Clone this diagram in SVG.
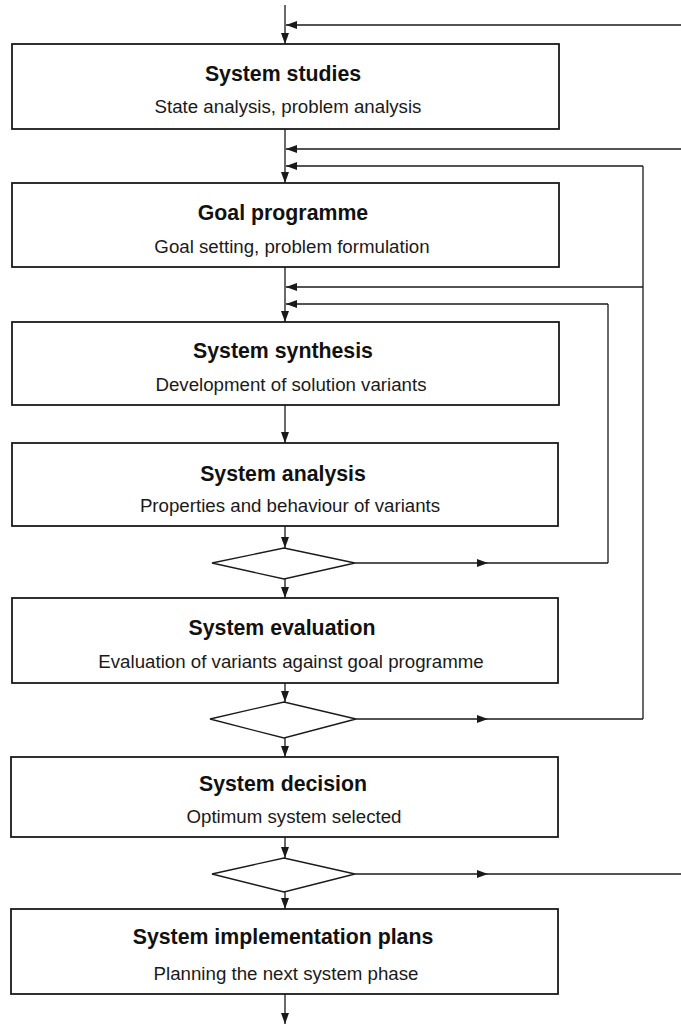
<svg xmlns="http://www.w3.org/2000/svg" width="681" height="1027" viewBox="0 0 681 1027">
<style>
.box{fill:#fff;stroke:#1a1a1a;stroke-width:1.8}
.dia{fill:#fff;stroke:#1a1a1a;stroke-width:1.3}
.t{font-family:"Liberation Sans",Arial,sans-serif;font-weight:bold;font-size:21.3px;fill:#111;text-anchor:middle}
.s{font-family:"Liberation Sans",Arial,sans-serif;font-size:18.7px;fill:#1a1a1a;text-anchor:middle}
.c{fill:none;stroke:#1a1a1a;stroke-width:1.3}
.a{marker-end:url(#ah)}
</style>
<defs>
<marker id="ah" markerUnits="userSpaceOnUse" markerWidth="11" markerHeight="8" refX="11" refY="4" orient="auto">
<path d="M0,0 L11,4 L0,8 z" fill="#1a1a1a"/>
</marker>
</defs>
<rect width="681" height="1027" fill="#fff"/>
<g id="connectors">
<path class="c a" d="M285,5 V44"/>
<path class="c a" d="M681,25 H286"/>
<path class="c a" d="M285,129 V183"/>
<path class="c a" d="M681,149 H286"/>
<path class="c a" d="M643,166 H286"/>
<path class="c" d="M643,166 V719"/>
<path class="c a" d="M285,267 V322"/>
<path class="c a" d="M643,287 H286"/>
<path class="c a" d="M608,304 H286"/>
<path class="c" d="M608,304 V563"/>
<path class="c a" d="M285,405 V443"/>
<path class="c a" d="M285,526 V548"/>
<path class="c a" d="M285,579 V598"/>
<path class="c a" d="M355,563 H488"/>
<path class="c" d="M488,563 H608"/>
<path class="c a" d="M285,683 V702"/>
<path class="c a" d="M285,738 V757"/>
<path class="c a" d="M356,719 H488"/>
<path class="c" d="M488,719 H643"/>
<path class="c a" d="M285,837 V858"/>
<path class="c a" d="M285,892 V909"/>
<path class="c a" d="M355,874 H488"/>
<path class="c" d="M488,874 H681"/>
<path class="c a" d="M285,994 V1024"/>
</g>
<g id="system-studies">
<rect class="box" x="12" y="44" width="547" height="85"/>
<text class="t" x="283" y="81">System studies</text>
<text class="s" x="288" y="113">State analysis, problem analysis</text>
</g>
<g id="goal-programme">
<rect class="box" x="12" y="183" width="547" height="84"/>
<text class="t" x="283" y="220">Goal programme</text>
<text class="s" x="292" y="253">Goal setting, problem formulation</text>
</g>
<g id="system-synthesis">
<rect class="box" x="12" y="322" width="547" height="83"/>
<text class="t" x="283" y="358">System synthesis</text>
<text class="s" x="291" y="391">Development of solution variants</text>
</g>
<g id="system-analysis">
<rect class="box" x="12" y="443" width="546" height="83"/>
<text class="t" x="283" y="481">System analysis</text>
<text class="s" x="290" y="512">Properties and behaviour of variants</text>
</g>
<g id="decision-1">
<polygon class="dia" points="212,563 284,548 355,563 284,579"/>
</g>
<g id="system-evaluation">
<rect class="box" x="12" y="598" width="546" height="85"/>
<text class="t" x="282" y="635">System evaluation</text>
<text class="s" x="291" y="668">Evaluation of variants against goal programme</text>
</g>
<g id="decision-2">
<polygon class="dia" points="210,719 284,702 356,719 284,738"/>
</g>
<g id="system-decision">
<rect class="box" x="11" y="757" width="547" height="80"/>
<text class="t" x="283" y="791">System decision</text>
<text class="s" x="294" y="823">Optimum system selected</text>
</g>
<g id="decision-3">
<polygon class="dia" points="212,874 284,858 355,874 284,892"/>
</g>
<g id="system-implementation-plans">
<rect class="box" x="11" y="909" width="547" height="85"/>
<text class="t" x="283" y="944">System implementation plans</text>
<text class="s" x="286" y="980">Planning the next system phase</text>
</g>
</svg>
